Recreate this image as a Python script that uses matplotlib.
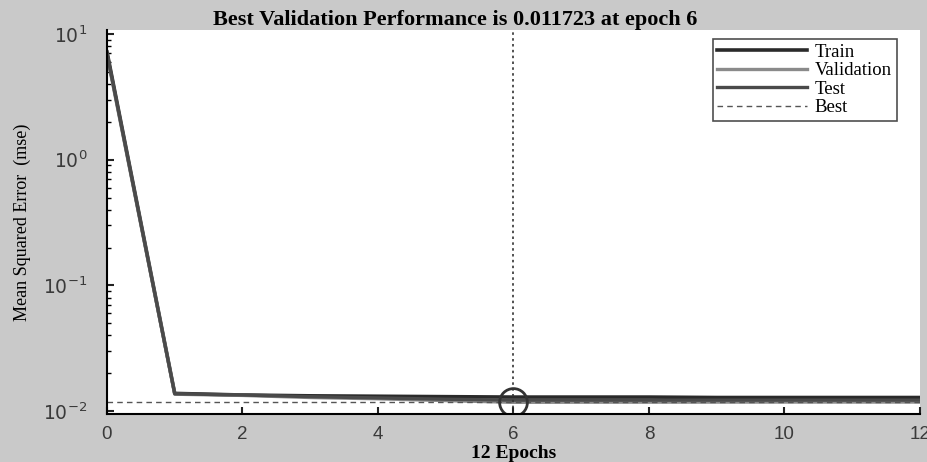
import numpy as np
import matplotlib
matplotlib.use("Agg")
import matplotlib.pyplot as plt

# values (mse per epoch)
epochs = np.arange(0, 13)
train = [7.2, 0.0138, 0.0134, 0.0132, 0.0131, 0.0130, 0.0129,
         0.0129, 0.0129, 0.0128, 0.0128, 0.0128, 0.0128]
validation = [6.8, 0.0136, 0.0133, 0.0128, 0.0125, 0.0121, 0.011723,
              0.01175, 0.01176, 0.01177, 0.01178, 0.01178, 0.01178]
test = [7.0, 0.0137, 0.0134, 0.0130, 0.0127, 0.0124, 0.0122,
        0.0122, 0.0122, 0.0122, 0.0122, 0.0122, 0.0122]
best_epoch = 6
best_perf = 0.011723

plt.rcParams['mathtext.fontset'] = 'custom'
plt.rcParams['mathtext.rm'] = 'Liberation Sans'
plt.rcParams['mathtext.it'] = 'Liberation Sans'
plt.rcParams['axes.unicode_minus'] = False

bg = '#c9c9c9'
fig = plt.figure(figsize=(9.28, 4.62), dpi=100, facecolor=bg)
ax = fig.add_axes([0.1153, 0.104, 0.876, 0.831])
ax.set_facecolor('white')

ax.plot(epochs, train, color='#2a2a2a', lw=2.6, label='Train')
ax.plot(epochs, validation, color='#8a8a8a', lw=2.4, label='Validation')
ax.plot(epochs, test, color='#4a4a4a', lw=2.4, label='Test')
ax.axhline(best_perf, color='#555555', lw=1.0, ls=(0, (4, 3)), label='Best')
ax.axvline(best_epoch, color='#333333', lw=1.2, ls=(0, (1.5, 2)))
ax.plot([best_epoch], [best_perf], marker='o', ms=20, mfc='none',
        mec='#333333', mew=2.0, ls='none')

ax.set_yscale('log')
ax.set_xlim(0, 12)
ax.set_ylim(0.00947, 10.76)
ax.set_xticks(range(0, 13, 2))
ax.tick_params(axis='both', direction='in', labelsize=13.5, colors='#222222',
               labelcolor='#3a3a3a', length=5, width=1.5)
ax.tick_params(axis='y', pad=14)
ax.tick_params(axis='x', pad=9)
ax.tick_params(axis='y', which='minor', direction='in', length=3, width=1)
for lab in ax.get_xticklabels():
    lab.set_fontfamily('Liberation Sans')
ax.spines['left'].set_linewidth(1.5)
ax.spines['bottom'].set_linewidth(1.5)
ax.spines['top'].set_visible(False)
ax.spines['right'].set_visible(False)

ax.set_title('Best Validation Performance is 0.011723 at epoch 6',
             fontfamily='Liberation Serif', fontweight='bold', fontsize=16,
             x=0.428, pad=3)
ax.set_xlabel('12 Epochs', fontfamily='Liberation Serif', fontweight='bold',
              fontsize=14, labelpad=1)
ax.set_ylabel('Mean Squared Error  (mse)', fontfamily='Liberation Serif',
              fontsize=13)
ax.yaxis.set_label_coords(-0.093, 0.5)

leg = ax.legend(loc='upper right', bbox_to_anchor=(0.976, 0.987),
                prop={'family': 'Liberation Serif', 'size': 13.5},
                frameon=True, fancybox=False, handlelength=4.8,
                borderpad=0.25, labelspacing=0.08, handletextpad=0.4,
                borderaxespad=0.2)
leg.get_frame().set_edgecolor('#222222')
leg.get_frame().set_linewidth(1.2)

fig.savefig('out.png', dpi=100, facecolor=bg)
